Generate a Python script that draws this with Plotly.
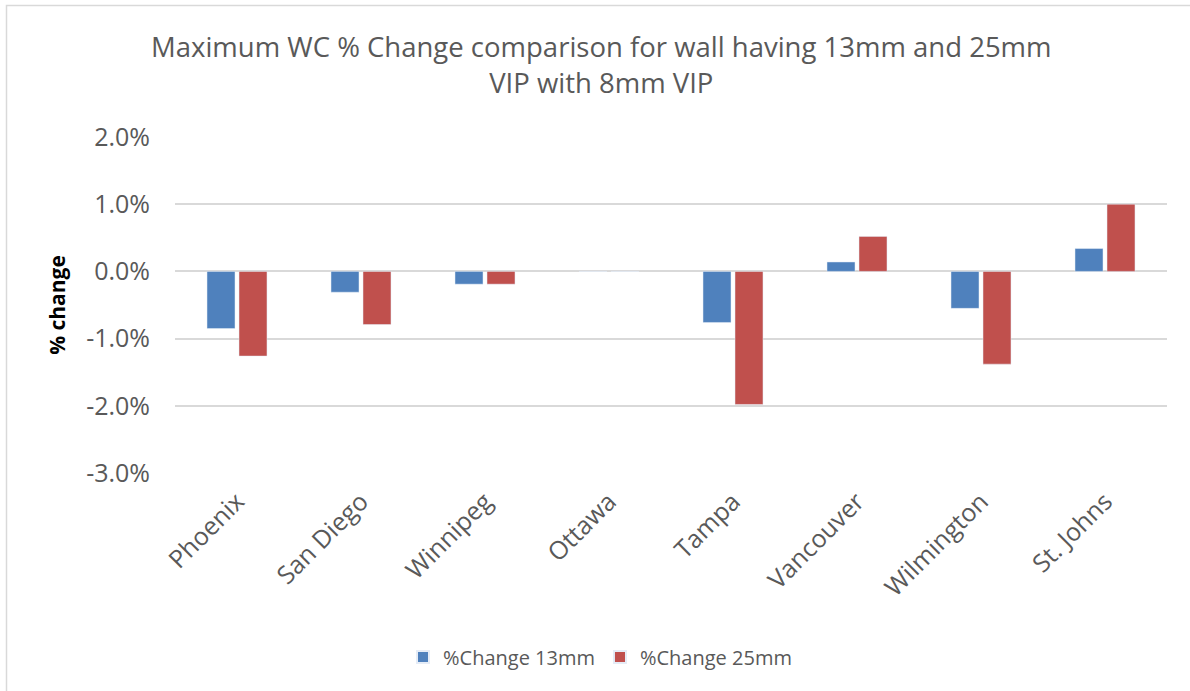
import plotly.graph_objects as go

cities = ["Phoenix", "San Diego", "Winnipeg", "Ottawa", "Tampa", "Vancouver", "Wilmington", "St. Johns"]
change_13mm = [-0.85, -0.31, -0.19, 0.0, -0.76, 0.14, -0.55, 0.34]
change_25mm = [-1.26, -0.79, -0.19, 0.0, -1.98, 0.52, -1.38, 1.00]
series_names = ["%Change 13mm", "%Change 25mm"]
y_tick_values = [-3, -2, -1, 0, 1, 2]
y_tick_labels = ["-3.0%", "-2.0%", "-1.0%", "0.0%", "1.0%", "2.0%"]
title_text = "Maximum WC % Change comparison for wall having 13mm and 25mm<br>VIP with 8mm VIP"
y_title = "<b>% change</b>"

W, H = 1190, 691
L, R, T, B = 175, 23, 137, 218
pw, ph = W - L - R, H - T - B

fig = go.Figure()
fig.add_trace(go.Bar(x=cities, y=change_13mm, name=series_names[0], marker_color="#4f81bd"))
fig.add_trace(go.Bar(x=cities, y=change_25mm, name=series_names[1], marker_color="#c0504d"))

font_main = "Open Sans"
fig.update_layout(
    width=W, height=H,
    margin=dict(l=L, r=R, t=T, b=B, autoexpand=False),
    paper_bgcolor="white", plot_bgcolor="white",
    barmode="group", bargap=0.484, bargroupgap=0.125,
    font=dict(family=font_main, color="#595959"),
    legend=dict(orientation="h", x=(600 - L) / pw, xref="paper", xanchor="center",
                y=(H - B - 657) / ph, yanchor="middle",
                font=dict(size=20, color="#595959"), itemsizing="constant"),
    xaxis=dict(tickangle=-45, tickfont=dict(size=25, color="#595959"), showgrid=False,
               showline=False, ticks="", ticklabelstandoff=8, fixedrange=True),
    yaxis=dict(range=[-3, 2], tickvals=y_tick_values, ticktext=y_tick_labels,
               tickfont=dict(size=25, color="#595959"), gridcolor="#d9d9d9", gridwidth=1.5,
               zeroline=True, zerolinecolor="#d9d9d9", zerolinewidth=1.5,
               showline=False, ticks="", ticklabelstandoff=24, fixedrange=True,
               title=dict(text=y_title, font=dict(size=21, color="black"), standoff=14)),
    annotations=[dict(text=title_text, xref="paper", yref="paper",
                      x=(601 - L) / pw, y=1 + (T - 64) / ph, xanchor="center", yanchor="middle",
                      showarrow=False, align="center",
                      font=dict(family=font_main, size=27.5, color="#595959"))],
    shapes=[dict(type="rect", xref="paper", yref="paper",
                 x0=(6.5 - L) / pw, x1=(W + 20 - L) / pw,
                 y0=(H - B - (H + 20)) / ph, y1=1 + (T - 5.5) / ph,
                 line=dict(color="#d9d9d9", width=1.5), fillcolor="rgba(0,0,0,0)", layer="below")],
)
fig.write_html("out.html", config={"displayModeBar": False},
               post_script="document.body.style.margin='0';")
